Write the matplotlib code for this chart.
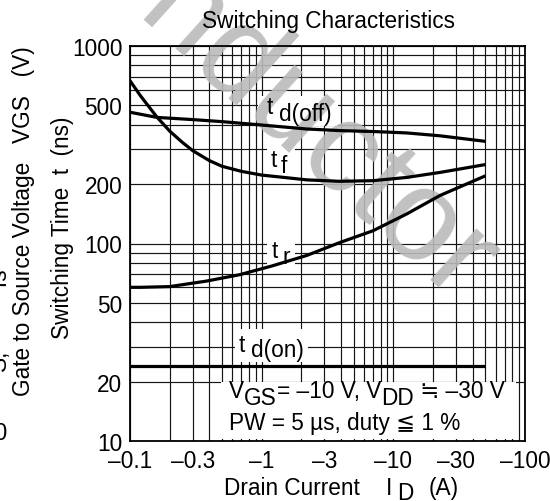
import matplotlib
matplotlib.use('Agg')
import matplotlib.pyplot as plt
from matplotlib.patches import Rectangle
from matplotlib.ticker import FixedLocator, FixedFormatter, NullFormatter

plt.rcParams['font.family'] = ['Liberation Sans', 'DejaVu Sans']

# ---------------- data ----------------
x_tdoff = [0.1, 0.16, 0.3, 0.5, 1.0, 2.2, 3.9, 7.0, 12.6, 22.6, 50]
tdoff = [462, 435, 424, 414, 398, 380, 373, 369, 363, 351, 329]

x_tf = [0.1, 0.12, 0.16, 0.2, 0.25, 0.3, 0.4, 0.5, 0.7, 1.0, 1.3, 2.2, 3.9, 7.0, 12.6, 22.6, 50]
tf = [667, 560, 437, 371, 325, 295, 263, 246, 232, 222, 218, 210, 206.5, 208, 216, 229, 251]

x_tr = [0.1, 0.12, 0.2, 0.38, 0.68, 1.2, 2.2, 3.9, 7.0, 12.6, 22.6, 50]
tr = [60, 60, 60.5, 64.5, 69.5, 77, 87, 101, 116, 141, 175, 220]

x_tdon = [0.1, 50]
tdon = [24, 24]

xticks = [0.1, 0.3, 1, 3, 10, 30, 100]
xticklabels = ['\u20130.1', '\u20130.3', '\u20131', '\u20133', '\u201310', '\u201330', '\u2013100']
yticks = [10, 20, 50, 100, 200, 500, 1000]
yticklabels = ['10', '20', '50', '100', '200', '500', '1000']

x_grid = [m * 10.0 ** e for e in (-1, 0, 1) for m in range(1, 10)] + [100]
y_grid = [m * 10.0 ** e for e in (1, 2) for m in range(1, 10)] + [1000]

title = 'Switching Characteristics'

# ---------------- figure ----------------
W, H = 550, 502
fig = plt.figure(figsize=(W / 100, H / 100), dpi=100)
fig.patch.set_facecolor('white')


def P(x, y):
    return (x / W, 1 - y / H)


FS = 16.3

ax = fig.add_axes([130 / W, 1 - 442 / H, 395 / W, 395 / H])
ax.set_xscale('log')
ax.set_yscale('log')
ax.set_xlim(0.1, 100)
ax.set_ylim(10, 1000)
ax.set_axisbelow(True)

ax.xaxis.set_major_locator(FixedLocator(xticks))
ax.xaxis.set_major_formatter(FixedFormatter(xticklabels))
ax.xaxis.set_minor_locator(FixedLocator(x_grid))
ax.xaxis.set_minor_formatter(NullFormatter())
ax.yaxis.set_major_locator(FixedLocator(yticks))
ax.yaxis.set_major_formatter(FixedFormatter(yticklabels))
ax.yaxis.set_minor_locator(FixedLocator(y_grid))
ax.yaxis.set_minor_formatter(NullFormatter())

ax.grid(True, which='both', color='#151515', lw=0.85)
ax.tick_params(which='both', length=0)
ax.tick_params(axis='x', pad=6.0, labelsize=FS, colors='black')
ax.tick_params(axis='y', pad=5.5, labelsize=FS, colors='black')
for s in ax.spines.values():
    s.set_linewidth(1.3)
    s.set_color('black')
    s.set_zorder(2.6)

# curves
for xs, ys in ((x_tdoff, tdoff), (x_tf, tf), (x_tr, tr), (x_tdon, tdon)):
    ax.plot(xs, ys, color='black', lw=2.3, zorder=2.5, solid_capstyle='butt',
            solid_joinstyle='round')


# white backgrounds of labels (pixel boxes)
def white_box(x0, y0, x1, y1):
    r = Rectangle(P(x0, y1), (x1 - x0) / W, (y1 - y0) / H, transform=fig.transFigure,
                  facecolor='white', edgecolor='none', zorder=1, clip_on=False)
    ax.add_patch(r)


white_box(258, 97, 338, 127)     # t d(off)
white_box(267, 146, 295, 176)    # t f
white_box(267, 240, 295, 269)    # t r
white_box(235, 330, 308, 363)    # t d(on)
white_box(221, 383, 516, 440)    # conditions

# watermark
wm_kw = dict(transform=fig.transFigure, fontsize=93, color='#bababa', alpha=0.9,
             rotation=-42, rotation_mode='anchor', va='baseline', zorder=1.5, clip_on=False)
ax.text(*P(188, 65.5), 'ductor', ha='left', **wm_kw)
ax.text(*P(188, 65.5), 'Semicon', ha='right', **wm_kw)

renderer = fig.canvas.get_renderer()


def seq(x, y, parts, fs=FS):
    for s, dy in parts:
        t = fig.text(*P(x, y + dy), s, fontsize=fs, ha='left', va='baseline', color='black')
        bb = t.get_window_extent(renderer)
        x = bb.x1


# curve labels
seq(267, 113.5, [('t', 0)])
seq(279, 113.5, [('d(off)', 8)])
seq(271, 167, [('t', 0)])
seq(281, 167, [('f', 6)])
seq(272, 258, [('t', 0)])
seq(282, 258, [('r', 6)])
seq(239, 352, [('t', 0)])
seq(251, 352, [('d(on)', 5)])

# conditions
seq(229, 398, [('V', 0), ('GS', 7), ('= \u201310 V, V', 0), ('DD', 7), (' \u2252 \u201330 V', 0)])
seq(229, 430, [('PW = 5 \u00b5s, duty \u2266 1 %', 0)])

# title
fig.text(*P(329, 28), title, fontsize=FS, ha='center', va='baseline')

# x label
seq(224, 495, [('Drain Current', 0)])
seq(386, 495, [('I', 0)])
seq(397, 495, [('D', 5)])
seq(429, 495, [('(A)', 0)])

# y labels
fig.text(*P(63, 228), 'Switching Time  t  (ns)', fontsize=FS, rotation=90,
         ha='center', va='center')
fig.text(*P(24, 221), 'Gate to Source Voltage   VGS   (V)', fontsize=FS, rotation=90,
         ha='center', va='center')

# cropped fragments of neighbouring chart
fig.text(*P(7, 434), '10', fontsize=FS, ha='right', va='center')
fig.text(*P(6, 371), 'S,', fontsize=FS, rotation=90, rotation_mode='anchor',
         ha='left', va='baseline')
fig.text(*P(6, 291), 'Ts', fontsize=FS, rotation=90, rotation_mode='anchor',
         ha='left', va='baseline')

fig.savefig('out.png', dpi=100)
